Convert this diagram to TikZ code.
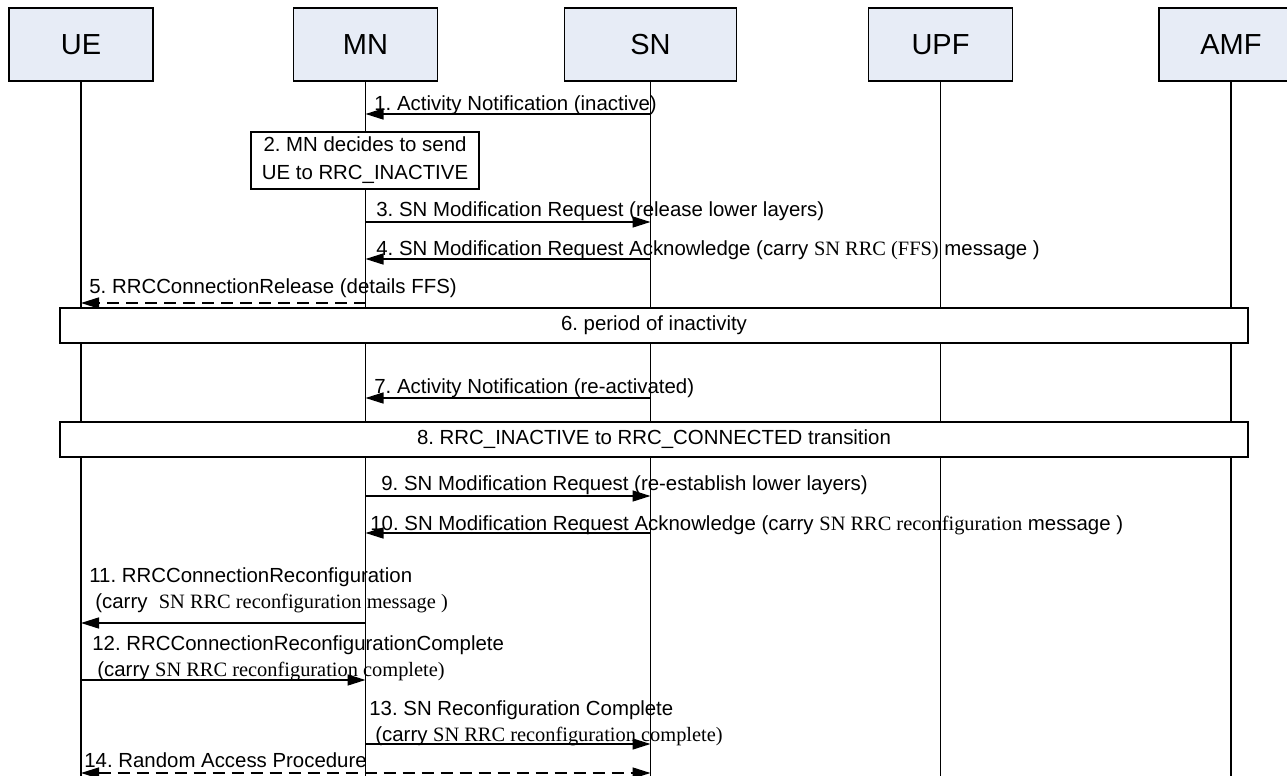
\documentclass[tikz,border=0pt]{standalone}
\usepackage{fontspec}
\setmainfont{Liberation Sans}
\newfontfamily\serifpart{Liberation Serif}
\usepackage{tikz}
\definecolor{headfill}{RGB}{231, 236, 246}
\usetikzlibrary{arrows.meta, positioning}
\newcommand{\rrcpart}[1]{{\serifpart #1}}
\frenchspacing

\begin{document}
\begin{tikzpicture}[
    x=0.5pt, y=-0.5pt,
    >={Triangle[length=9pt, width=5.5pt]},
    entity/.style={draw, line width=0.75pt, fill=headfill, minimum width=#1, minimum height=36.5pt,
                   font=\fontsize{14.5pt}{17pt}\selectfont},
    entity/.default=72pt,
    lifeline/.style={line width=0.65pt},
    note/.style={draw, line width=0.9pt, fill=white, inner sep=0pt, align=center,
                 font=\fontsize{10.2pt}{14pt}\selectfont},
    lbl/.style={inner sep=0pt, anchor=base west, align=left, font=\fontsize{10.2pt}{12.6pt}\selectfont},
    msg/.style={line width=0.75pt, ->},
    dmsg/.style={msg, dash pattern=on 6pt off 3.5pt}
]
    \useasboundingbox (0,0) rectangle (1287,776);

    % entities
    \node[entity] (ue) at (81,44.5) {UE};
    \node[entity] (mn) at (365.5,44.5) {MN};
    \node[entity=86pt] (sn) at (650.5,44.5) {SN};
    \node[entity] (upf) at (940.5,44.5) {UPF};
    \node[entity] (amf) at (1231,44.5) {AMF};

    \coordinate (bottom) at (0,776);
    \draw[lifeline] (ue.south) -- (ue |- bottom);
    \draw[lifeline] (mn.south) -- (mn |- bottom);
    \draw[lifeline] (sn.south) -- (sn |- bottom);
    \draw[lifeline] (upf.south) -- (upf |- bottom);
    \draw[lifeline] (amf.south) -- (amf |- bottom);

    % rows of the messages
    \coordinate (r1) at (0,114);
    \coordinate (r3) at (0,222);
    \coordinate (r4) at (0,259);
    \coordinate (r5) at (0,303);
    \coordinate (r7) at (0,398);
    \coordinate (r9) at (0,496);
    \coordinate (r10) at (0,533);
    \coordinate (r11) at (0,623);
    \coordinate (r12) at (0,680);
    \coordinate (r13) at (0,744);
    \coordinate (r14) at (0,773);

    % boxes
    \node[note, minimum width=114pt, minimum height=28.5pt] (n2) at (365,160.5) {
        2. MN decides to send\\
        UE to RRC\_INACTIVE
    };
    \node[note, minimum width=594pt, minimum height=17.5pt] (n6) at (654,325.5) {6. period of inactivity};
    \node[note, minimum width=594pt, minimum height=17.5pt] (n8) at (654,439.5) {8. RRC\_INACTIVE to RRC\_CONNECTED transition};

    % messages
    \node[lbl] (t1) at (374,110) {1. Activity Notification (inactive)};
    \draw[msg] (sn |- r1) -- (mn |- r1);

    \node[lbl] (t3) at (376,216) {3. SN Modification Request (release lower layers)};
    \draw[msg] (mn |- r3) -- (sn |- r3);

    \node[lbl] (t4) at (376,255) {4. SN Modification Request Acknowledge (carry \rrcpart{SN RRC (FFS)} message )};
    \draw[msg] (sn |- r4) -- (mn |- r4);

    \node[lbl] (t5) at (89,293) {5. RRCConnectionRelease (details FFS)};
    \draw[dmsg] (mn |- r5) -- (ue |- r5);

    \node[lbl] (t7) at (374,393) {7. Activity Notification (re-activated)};
    \draw[msg] (sn |- r7) -- (mn |- r7);

    \node[lbl] (t9) at (381,490) {9. SN Modification Request (re-establish lower layers)};
    \draw[msg] (mn |- r9) -- (sn |- r9);

    \node[lbl] (t10) at (370,530) {10. SN Modification Request Acknowledge (carry \rrcpart{SN RRC reconfiguration} message )};
    \draw[msg] (sn |- r10) -- (mn |- r10);

    % two-line labels: base is the last line
    \node[lbl] (t11) at (89,608) {
        11. RRCConnectionReconfiguration\\
        \hspace*{3pt}(carry \ \rrcpart{SN RRC reconfiguration message )}
    };
    \draw[msg] (mn |- r11) -- (ue |- r11);

    \node[lbl] (t12) at (92,676) {
        12. RRCConnectionReconfigurationComplete\\
        \hspace*{2.5pt}(carry \rrcpart{SN RRC reconfiguration complete)}
    };
    \draw[msg] (ue |- r12) -- (mn |- r12);

    \node[lbl] (t13) at (369,741) {
        13. SN Reconfiguration Complete\\
        \hspace*{3pt}(carry \rrcpart{SN RRC reconfiguration complete)}
    };
    \draw[msg] (mn |- r13) -- (sn |- r13);

    \node[lbl] (t14) at (84,767) {14. Random Access Procedure};
    \draw[dmsg, <->] (ue |- r14) -- (sn |- r14);
\end{tikzpicture}
\end{document}
